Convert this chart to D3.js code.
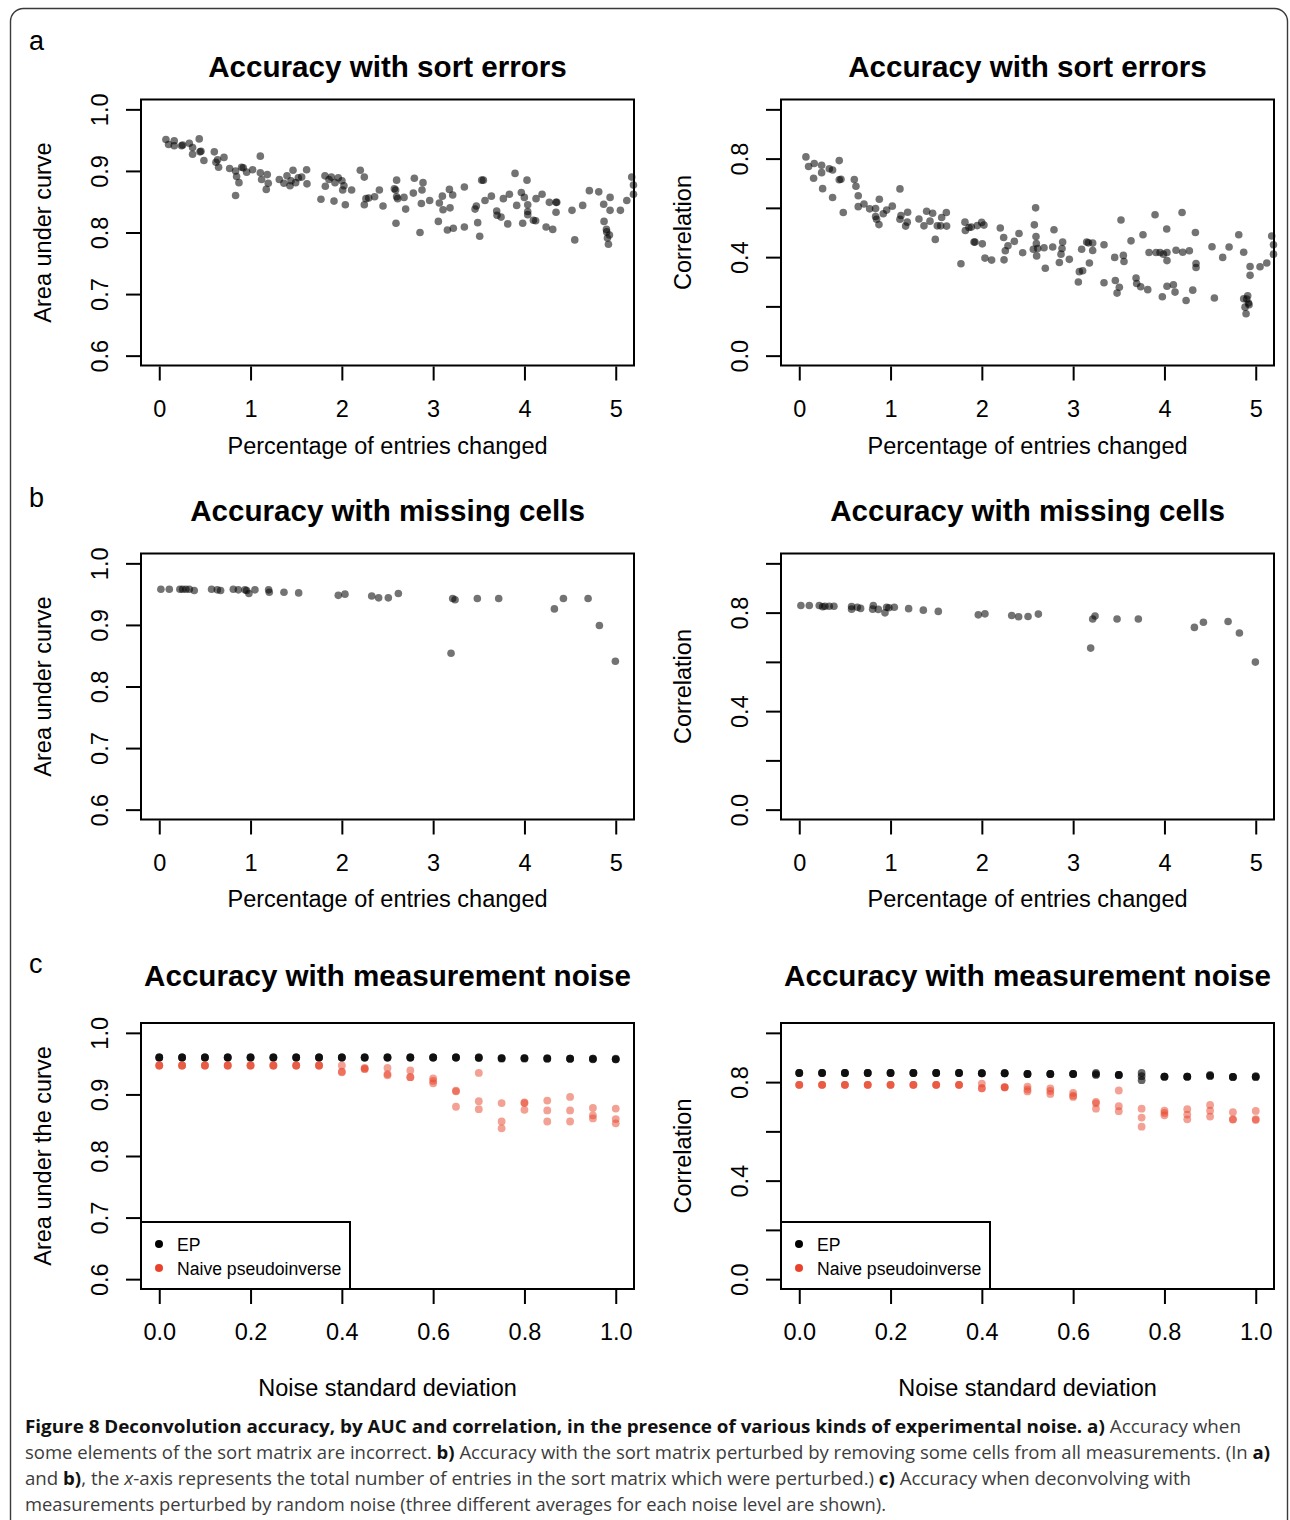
<!DOCTYPE html>
<html>
<head>
<meta charset="utf-8">
<script src="https://cdn.jsdelivr.net/npm/d3@7"></script>
<style>
  body { margin: 0; background: #fff; }
  text { font-family: "Liberation Sans", Arial, Helvetica, sans-serif; }
</style>
</head>
<body>
<svg id="fig" width="1290" height="1520"></svg>
<script>
// ---- data ----
// a) sort errors: [percentage changed, value]
const sortErrAuc = [
  [0.073,0.951],[0.102,0.943],[0.164,0.949],[0.164,0.941],[0.245,0.941],[0.256,0.942],[0.329,0.945],
  [0.365,0.938],[0.365,0.927],[0.438,0.952],[0.446,0.931],[0.457,0.932],[0.489,0.917],[0.603,0.931],
  [0.621,0.914],[0.639,0.918],[0.650,0.906],[0.709,0.922],[0.771,0.904],[0.836,0.900],[0.836,0.860],
  [0.847,0.891],[0.873,0.881],[0.902,0.906],[0.920,0.905],[0.957,0.898],[1.023,0.902],[1.107,0.924],
  [1.107,0.897],[1.121,0.886],[1.172,0.870],[1.183,0.894],[1.194,0.880],[1.315,0.886],[1.366,0.880],
  [1.399,0.892],[1.432,0.876],[1.443,0.884],[1.465,0.901],[1.494,0.881],[1.523,0.889],[1.560,0.890],
  [1.614,0.902],[1.618,0.879],[1.771,0.854],[1.815,0.892],[1.819,0.875],[1.859,0.886],[1.885,0.890],
  [1.914,0.851],[1.925,0.881],[1.961,0.889],[2.001,0.884],[2.009,0.869],[2.023,0.876],[2.038,0.845],
  [2.107,0.869],[2.202,0.901],[2.246,0.890],[2.246,0.845],[2.264,0.855],[2.294,0.856],[2.359,0.858],
  [2.411,0.869],[2.451,0.843],[2.575,0.871],[2.589,0.869],[2.593,0.815],[2.600,0.885],[2.600,0.858],
  [2.611,0.855],[2.681,0.857],[2.699,0.838],[2.783,0.864],[2.794,0.888],[2.856,0.800],[2.871,0.847],
  [2.878,0.869],[2.889,0.881],[2.962,0.852],[3.057,0.818],[3.068,0.848],[3.101,0.859],[3.108,0.837],
  [3.156,0.804],[3.178,0.870],[3.185,0.840],[3.214,0.861],[3.221,0.807],[3.342,0.874],[3.342,0.809],
  [3.459,0.838],[3.473,0.843],[3.488,0.816],[3.510,0.794],[3.532,0.885],[3.550,0.885],[3.568,0.852],
  [3.638,0.859],[3.696,0.835],[3.700,0.828],[3.744,0.825],[3.769,0.855],[3.817,0.814],[3.835,0.862],
  [3.897,0.896],[3.915,0.844],[3.966,0.865],[3.981,0.815],[3.999,0.857],[4.028,0.885],[4.036,0.845],
  [4.036,0.834],[4.036,0.829],[4.098,0.820],[4.123,0.819],[4.127,0.855],[4.193,0.862],[4.237,0.809],
  [4.273,0.849],[4.310,0.805],[4.346,0.849],[4.354,0.849],[4.346,0.833],[4.521,0.836],[4.551,0.788],
  [4.638,0.844],[4.711,0.868],[4.814,0.866],[4.868,0.846],[4.872,0.818],[4.898,0.805],[4.901,0.801],
  [4.909,0.791],[4.920,0.781],[4.931,0.796],[4.938,0.857],[4.938,0.836],[5.051,0.836],[5.121,0.852],
  [5.175,0.890],[5.194,0.877],[5.194,0.862]
];
const sortErrCor = [
  [0.073,0.807],[0.102,0.768],[0.157,0.720],[0.164,0.780],[0.245,0.773],[0.245,0.743],[0.256,0.678],
  [0.329,0.759],[0.365,0.754],[0.365,0.642],[0.438,0.792],[0.438,0.714],[0.457,0.716],[0.482,0.581],
  [0.603,0.715],[0.621,0.688],[0.646,0.649],[0.646,0.605],[0.709,0.616],[0.771,0.596],[0.836,0.597],
  [0.836,0.565],[0.847,0.554],[0.873,0.532],[0.877,0.635],[0.920,0.576],[0.957,0.591],[1.019,0.607],
  [1.103,0.677],[1.103,0.554],[1.114,0.569],[1.165,0.526],[1.183,0.542],[1.187,0.582],[1.311,0.555],
  [1.366,0.527],[1.395,0.586],[1.432,0.546],[1.461,0.578],[1.490,0.472],[1.512,0.527],[1.549,0.527],
  [1.560,0.561],[1.611,0.581],[1.614,0.526],[1.771,0.373],[1.815,0.542],[1.819,0.508],[1.859,0.520],
  [1.885,0.522],[1.914,0.461],[1.925,0.461],[1.950,0.528],[1.998,0.541],[2.005,0.454],[2.023,0.530],
  [2.034,0.396],[2.107,0.388],[2.202,0.518],[2.239,0.480],[2.243,0.389],[2.257,0.426],[2.286,0.446],
  [2.356,0.464],[2.407,0.496],[2.447,0.418],[2.575,0.531],[2.589,0.600],[2.593,0.484],[2.597,0.455],
  [2.564,0.432],[2.600,0.405],[2.611,0.435],[2.681,0.438],[2.695,0.355],[2.776,0.441],[2.790,0.511],
  [2.849,0.378],[2.867,0.412],[2.878,0.435],[2.885,0.461],[2.958,0.391],[3.057,0.299],[3.068,0.341],
  [3.093,0.432],[3.104,0.345],[3.148,0.461],[3.167,0.458],[3.178,0.376],[3.214,0.457],[3.214,0.427],
  [3.338,0.450],[3.338,0.296],[3.455,0.399],[3.462,0.305],[3.481,0.254],[3.506,0.278],[3.524,0.551],
  [3.550,0.407],[3.557,0.382],[3.634,0.466],[3.689,0.315],[3.696,0.293],[3.740,0.280],[3.765,0.491],
  [3.817,0.268],[3.831,0.419],[3.897,0.572],[3.908,0.419],[3.952,0.419],[3.977,0.239],[3.988,0.412],
  [4.025,0.514],[4.028,0.419],[4.028,0.386],[4.028,0.282],[4.098,0.288],[4.116,0.258],[4.127,0.428],
  [4.193,0.581],[4.200,0.420],[4.237,0.224],[4.273,0.426],[4.310,0.266],[4.339,0.500],[4.346,0.374],
  [4.346,0.358],[4.521,0.442],[4.547,0.234],[4.638,0.399],[4.708,0.441],[4.814,0.491],[4.868,0.420],
  [4.868,0.231],[4.883,0.197],[4.894,0.170],[4.901,0.230],[4.912,0.243],[4.920,0.214],[4.927,0.207],
  [4.938,0.362],[4.938,0.326],[5.047,0.361],[5.121,0.376],[5.175,0.486],[5.194,0.450],[5.194,0.412]
];

// b) missing cells
const missAuc = [
  [0.018,0.958],[0.110,0.958],[0.226,0.958],[0.256,0.958],[0.292,0.958],[0.329,0.958],[0.383,0.956],
  [0.573,0.958],[0.636,0.957],[0.672,0.956],[0.811,0.958],[0.866,0.957],[0.939,0.957],[0.957,0.956],
  [0.982,0.951],[1.048,0.957],[1.198,0.957],[1.205,0.953],[1.366,0.953],[1.527,0.952],[1.961,0.948],
  [2.034,0.950],[2.327,0.947],[2.403,0.944],[2.509,0.944],[2.619,0.951],[3.196,0.854],[3.214,0.943],
  [3.240,0.941],[3.484,0.943],[3.718,0.943],[4.328,0.926],[4.427,0.943],[4.697,0.943],[4.821,0.899],
  [4.996,0.841]
];
const missCor = [
  [0.018,0.829],[0.110,0.829],[0.219,0.829],[0.256,0.824],[0.281,0.826],[0.329,0.826],[0.380,0.826],
  [0.573,0.825],[0.573,0.814],[0.636,0.822],[0.672,0.817],[0.811,0.829],[0.804,0.814],[0.866,0.813],
  [0.939,0.799],[0.957,0.822],[0.982,0.820],[1.041,0.822],[1.198,0.816],[1.359,0.810],[1.523,0.805],
  [1.961,0.791],[2.034,0.795],[2.327,0.788],[2.403,0.783],[2.506,0.784],[2.619,0.794],[3.192,0.656],
  [3.214,0.774],[3.240,0.786],[3.481,0.774],[3.714,0.774],[4.328,0.740],[4.427,0.761],[4.697,0.764],
  [4.821,0.717],[4.996,0.599]
];

// c) measurement noise: three averages per noise level
const noiseLevels = [0,0.05,0.1,0.15,0.2,0.25,0.3,0.35,0.4,0.45,0.5,0.55,0.6,0.65,0.7,0.75,0.8,0.85,0.9,0.95,1.0];
const epAuc = [
  [0.960,0.960,0.960],[0.960,0.960,0.960],[0.960,0.960,0.960],[0.960,0.960,0.960],[0.960,0.960,0.960],
  [0.960,0.960,0.960],[0.960,0.960,0.960],[0.960,0.960,0.960],[0.960,0.960,0.960],[0.960,0.960,0.960],
  [0.960,0.960,0.960],[0.960,0.960,0.960],[0.960,0.960,0.960],[0.960,0.960,0.960],[0.960,0.959,0.960],
  [0.959,0.959,0.958],[0.959,0.958,0.959],[0.958,0.959,0.958],[0.958,0.958,0.958],[0.958,0.957,0.958],
  [0.958,0.957,0.957]
];
const naiveAuc = [
  [0.947,0.947,0.947],[0.947,0.947,0.947],[0.947,0.947,0.947],[0.947,0.947,0.947],[0.947,0.947,0.947],
  [0.947,0.947,0.947],[0.947,0.947,0.947],[0.947,0.947,0.947],[0.947,0.937,0.936],[0.943,0.941,0.942],
  [0.943,0.933,0.931],[0.939,0.928,0.928],[0.926,0.922,0.918],[0.906,0.905,0.880],[0.935,0.889,0.876],
  [0.886,0.856,0.845],[0.887,0.886,0.875],[0.890,0.874,0.856],[0.896,0.874,0.856],[0.878,0.866,0.861],
  [0.877,0.860,0.853]
];
const epCor = [
  [0.837,0.837,0.837],[0.837,0.837,0.837],[0.837,0.837,0.837],[0.837,0.837,0.837],[0.837,0.837,0.837],
  [0.837,0.837,0.837],[0.837,0.837,0.837],[0.837,0.837,0.837],[0.836,0.836,0.836],[0.836,0.836,0.836],
  [0.833,0.833,0.833],[0.833,0.833,0.833],[0.833,0.833,0.833],[0.837,0.832,0.829],[0.829,0.829,0.829],
  [0.837,0.824,0.808],[0.822,0.822,0.822],[0.822,0.822,0.822],[0.829,0.825,0.825],[0.821,0.821,0.821],
  [0.824,0.820,0.822]
];
const naiveCor = [
  [0.789,0.789,0.789],[0.789,0.789,0.789],[0.789,0.789,0.789],[0.789,0.789,0.789],[0.789,0.789,0.789],
  [0.789,0.789,0.789],[0.789,0.789,0.789],[0.789,0.789,0.789],[0.794,0.775,0.775],[0.780,0.778,0.780],
  [0.782,0.770,0.762],[0.774,0.764,0.752],[0.756,0.745,0.740],[0.720,0.714,0.692],[0.766,0.702,0.682],
  [0.692,0.656,0.619],[0.684,0.675,0.665],[0.690,0.668,0.649],[0.707,0.684,0.660],[0.678,0.649,0.648],
  [0.683,0.650,0.646]
];

// ticks
const pctTicks = [0,1,2,3,4,5];
const pctLabels = ["0","1","2","3","4","5"];
const noiseTicks = [0,0.2,0.4,0.6,0.8,1.0];
const noiseLabels = ["0.0","0.2","0.4","0.6","0.8","1.0"];
const aucTicks = [0.6,0.7,0.8,0.9,1.0];
const aucLabels = ["0.6","0.7","0.8","0.9","1.0"];
const corTicks = [0,0.2,0.4,0.6,0.8,1.0];
const corLabels = ["0.0","","0.4","","0.8",""];
const legendNames = ["EP","Naive pseudoinverse"];

// ---- layout ----
const svg = d3.select("#fig");
const boxW = 493, boxH = 266;
const colLeft = [141, 781];
const rowTop = [99.5, 553.5, 1023];
const titleOff = [-23, -33, -37];
const xTitleOff = [88, 87, 107];
const EP_COL = "#000000", NAIVE_COL = "#e8432a";

function pad(lim) {
  // R style 4% axis extension
  const r = lim[1] - lim[0];
  return [lim[0] - 0.04 * r, lim[1] + 0.04 * r];
}

// outer frame of the figure
svg.append("rect")
  .attr("x", 10.5).attr("y", 8.5)
  .attr("width", 1277).attr("height", 1560)
  .attr("rx", 13)
  .attr("fill", "none").attr("stroke", "#3a3a3a").attr("stroke-width", 1.4);

function drawPanel(p) {
  const left = colLeft[p.col], top = rowTop[p.row];
  const g = svg.append("g");
  const x = d3.scaleLinear().domain(pad(p.xlim)).range([left, left + boxW]);
  const y = d3.scaleLinear().domain(pad(p.ylim)).range([top + boxH, top]);

  // title
  g.append("text")
    .attr("x", left + boxW / 2).attr("y", top + titleOff[p.row])
    .attr("text-anchor", "middle")
    .attr("font-size", 29.6).attr("font-weight", "bold")
    .text(p.title);

  // x axis
  const gx = g.append("g")
    .attr("transform", `translate(0,${top + boxH + 1})`)
    .call(d3.axisBottom(x).tickValues(p.xticks).tickSize(14).tickSizeOuter(0)
      .tickFormat(d => p.xlabels[p.xticks.indexOf(d)]));
  gx.select(".domain").remove();
  gx.selectAll(".tick line").attr("stroke", "#000").attr("stroke-width", 2);
  gx.selectAll(".tick text")
    .attr("y", 50).attr("dy", 0)
    .attr("fill", "#000").attr("font-size", 23.5)
    .attr("font-family", '"Liberation Sans", Arial, sans-serif');

  // y axis, labels parallel to the axis
  const gy = g.append("g")
    .attr("transform", `translate(${left},0)`)
    .call(d3.axisLeft(y).tickValues(p.yticks).tickSize(15).tickSizeOuter(0)
      .tickFormat(d => p.ylabels[p.yticks.indexOf(d)]));
  gy.select(".domain").remove();
  gy.selectAll(".tick line").attr("stroke", "#000").attr("stroke-width", 2);
  gy.selectAll(".tick text")
    .attr("x", 0).attr("y", -33).attr("dy", 0)
    .attr("transform", "rotate(-90)")
    .attr("text-anchor", "middle")
    .attr("fill", "#000").attr("font-size", 23.5)
    .attr("font-family", '"Liberation Sans", Arial, sans-serif');

  // axis titles
  g.append("text")
    .attr("x", left + boxW / 2).attr("y", top + boxH + xTitleOff[p.row])
    .attr("text-anchor", "middle").attr("font-size", 23.5)
    .text(p.xlab);
  g.append("text")
    .attr("transform", `translate(${left - 90},${top + boxH / 2}) rotate(-90)`)
    .attr("text-anchor", "middle").attr("font-size", 23.5)
    .text(p.ylab);

  // points
  if (p.points) {
    g.append("g").selectAll("circle")
      .data(p.points)
      .join("circle")
      .attr("cx", d => x(d[0]))
      .attr("cy", d => y(d[1]))
      .attr("r", 3.8)
      .attr("fill", "#000")
      .attr("fill-opacity", 0.55);
  }
  if (p.series) {
    p.series.forEach(s => {
      const flat = [];
      noiseLevels.forEach((lv, i) => s.values[i].forEach(v => flat.push([lv, v])));
      g.append("g").selectAll("circle")
        .data(flat)
        .join("circle")
        .attr("cx", d => x(d[0]))
        .attr("cy", d => y(d[1]))
        .attr("r", 3.9)
        .attr("fill", s.color)
        .attr("fill-opacity", s.alpha);
    });

    // legend in the bottom left corner
    const lg = g.append("g");
    lg.append("rect")
      .attr("x", left).attr("y", top + boxH - 67)
      .attr("width", 209).attr("height", 67)
      .attr("fill", "#fff").attr("stroke", "#000").attr("stroke-width", 2);
    p.series.forEach((s, i) => {
      const ly = top + boxH - 45 + i * 24;
      lg.append("circle")
        .attr("cx", left + 18).attr("cy", ly).attr("r", 4)
        .attr("fill", s.color);
      lg.append("text")
        .attr("x", left + 36).attr("y", ly + 6.5)
        .attr("font-size", 17.6)
        .text(legendNames[i]);
    });
  }

  // box
  g.append("rect")
    .attr("x", left).attr("y", top)
    .attr("width", boxW).attr("height", boxH)
    .attr("fill", "none").attr("stroke", "#000").attr("stroke-width", 2);
}

const pctLab = "Percentage of entries changed";
const panels = [
  { row: 0, col: 0, title: "Accuracy with sort errors", points: sortErrAuc,
    xlim: [0, 5], xticks: pctTicks, xlabels: pctLabels, xlab: pctLab,
    ylim: [0.6, 1], yticks: aucTicks, ylabels: aucLabels, ylab: "Area under curve" },
  { row: 0, col: 1, title: "Accuracy with sort errors", points: sortErrCor,
    xlim: [0, 5], xticks: pctTicks, xlabels: pctLabels, xlab: pctLab,
    ylim: [0, 1], yticks: corTicks, ylabels: corLabels, ylab: "Correlation" },
  { row: 1, col: 0, title: "Accuracy with missing cells", points: missAuc,
    xlim: [0, 5], xticks: pctTicks, xlabels: pctLabels, xlab: pctLab,
    ylim: [0.6, 1], yticks: aucTicks, ylabels: aucLabels, ylab: "Area under curve" },
  { row: 1, col: 1, title: "Accuracy with missing cells", points: missCor,
    xlim: [0, 5], xticks: pctTicks, xlabels: pctLabels, xlab: pctLab,
    ylim: [0, 1], yticks: corTicks, ylabels: corLabels, ylab: "Correlation" },
  { row: 2, col: 0, title: "Accuracy with measurement noise",
    series: [{ values: epAuc, color: EP_COL, alpha: 0.6 }, { values: naiveAuc, color: NAIVE_COL, alpha: 0.5 }],
    xlim: [0, 1], xticks: noiseTicks, xlabels: noiseLabels, xlab: "Noise standard deviation",
    ylim: [0.6, 1], yticks: aucTicks, ylabels: aucLabels, ylab: "Area under the curve" },
  { row: 2, col: 1, title: "Accuracy with measurement noise",
    series: [{ values: epCor, color: EP_COL, alpha: 0.6 }, { values: naiveCor, color: NAIVE_COL, alpha: 0.5 }],
    xlim: [0, 1], xticks: noiseTicks, xlabels: noiseLabels, xlab: "Noise standard deviation",
    ylim: [0, 1], yticks: corTicks, ylabels: corLabels, ylab: "Correlation" }
];
panels.forEach(drawPanel);

// panel letters
[["a", 50], ["b", 507], ["c", 973]].forEach(([t, yy]) => {
  svg.append("text").attr("x", 29).attr("y", yy).attr("font-size", 27).text(t);
});

// caption
const capFont = '"Open Sans", "Noto Sans", sans-serif';
const caption = [
  { y: 1433, w: 1216, parts: [
    ["b", "Figure 8 Deconvolution accuracy, by AUC and correlation, in the presence of various kinds of experimental noise. a)"],
    ["r", " Accuracy when"]] },
  { y: 1459, w: 1245, parts: [
    ["r", "some elements of the sort matrix are incorrect. "], ["b", "b)"],
    ["r", " Accuracy with the sort matrix perturbed by removing some cells from all measurements. (In "], ["b", "a)"]] },
  { y: 1485, w: 1166, parts: [
    ["r", "and "], ["b", "b)"], ["r", ", the "], ["i", "x"],
    ["r", "-axis represents the total number of entries in the sort matrix which were perturbed.) "], ["b", "c)"],
    ["r", " Accuracy when deconvolving with"]] },
  { y: 1511, w: 861, parts: [
    ["r", "measurements perturbed by random noise (three different averages for each noise level are shown)."]] }
];
caption.forEach(line => {
  const t = svg.append("text")
    .attr("x", 25).attr("y", line.y)
    .attr("font-size", 18.5)
    .attr("font-family", capFont)
    .attr("textLength", line.w)
    .attr("lengthAdjust", "spacingAndGlyphs")
    .attr("xml:space", "preserve");
  line.parts.forEach(([k, s]) => {
    t.append("tspan")
      .attr("font-weight", k === "b" ? 700 : 400)
      .attr("font-style", k === "i" ? "italic" : "normal")
      .attr("fill", k === "b" ? "#111" : "#3c3c3c")
      .style("font-family", capFont)
      .text(s);
  });
});
</script>
</body>
</html>
